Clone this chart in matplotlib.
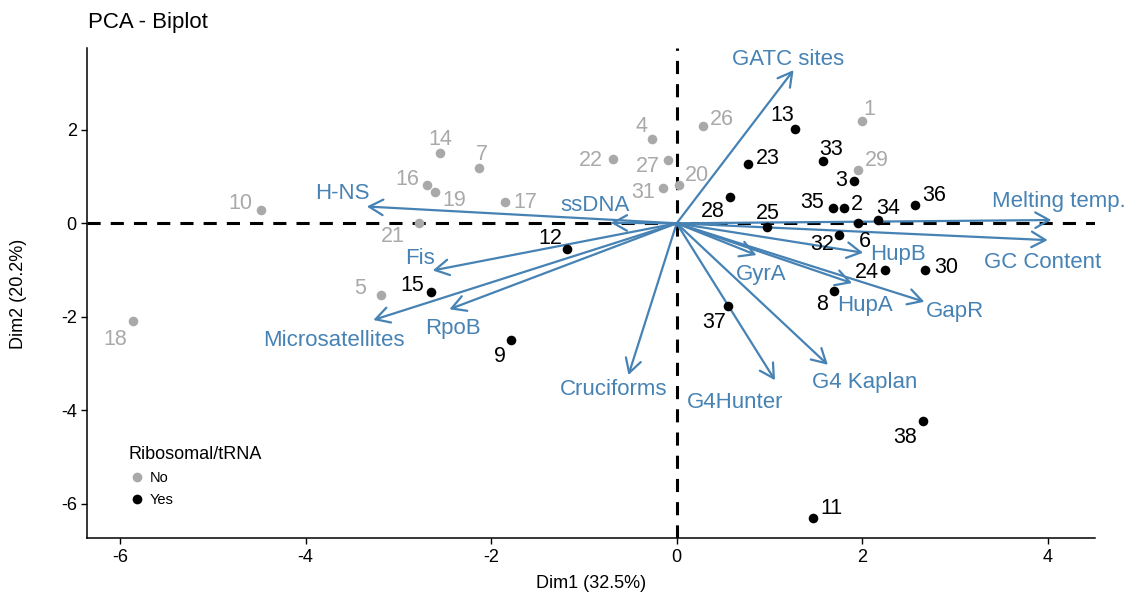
import matplotlib
matplotlib.use("Agg")
import matplotlib.pyplot as plt
from matplotlib.lines import Line2D

plt.rcParams['font.family'] = ['Liberation Sans', 'DejaVu Sans']
plt.rcParams['axes.unicode_minus'] = False

# Individuals (domain id, Dim1, Dim2, ribosomal/tRNA group)
ind_ids = [1, 4, 5, 7, 10, 14, 16, 17, 18, 19, 20, 21, 22, 26, 27, 29, 31,
           2, 3, 6, 8, 9, 11, 12, 13, 15, 23, 24, 25, 28, 30, 32, 33, 34, 35, 36, 37, 38]
ind_x = [2.00, -0.27, -3.19, -2.13, -4.48, -2.55, -2.69, -1.85, -5.86, -2.61, 0.03, -2.78,
         -0.69, 0.28, -0.09, 1.96, -0.15,
         1.80, 1.91, 1.95, 1.70, -1.79, 1.47, -1.18, 1.28, -2.65, 0.77, 2.25, 0.97, 0.58,
         2.68, 1.75, 1.58, 2.17, 1.69, 2.57, 0.55, 2.66]
ind_y = [2.20, 1.81, -1.54, 1.18, 0.28, 1.50, 0.82, 0.45, -2.10, 0.66, 0.82, 0.01,
         1.38, 2.08, 1.36, 1.14, 0.75,
         0.32, 0.91, 0.00, -1.45, -2.50, -6.31, -0.54, 2.03, -1.46, 1.26, -1.01, -0.07, 0.56,
         -1.01, -0.25, 1.33, 0.07, 0.32, 0.40, -1.76, -4.24]
ind_group = ["No"] * 17 + ["Yes"] * 21

# Variables (arrow tips)
var_names = ["GATC sites", "Melting temp.", "GC Content", "HupB", "HupA", "GapR", "GyrA",
             "G4 Kaplan", "G4Hunter", "Cruciforms", "ssDNA", "H-NS", "Fis", "RpoB",
             "Microsatellites"]
var_x = [1.26, 4.04, 4.00, 2.01, 1.89, 2.67, 0.86, 1.63, 1.06, -0.52, -0.71, -3.34, -2.63, -2.45, -3.27]
var_y = [3.28, 0.07, -0.36, -0.63, -1.28, -1.68, -0.68, -3.03, -3.36, -3.25, 0.01, 0.36, -1.01, -1.84, -2.07]

# label offsets in pixels (dx, dy) from each point / arrow tip
ind_offsets = {
    1: (7, 13), 4: (-10, 14), 5: (-21, 9), 7: (3, 16), 10: (-21, 9), 14: (0, 16),
    16: (-20, 8), 17: (20, 2), 18: (-18, -16), 19: (20, -6), 20: (17, 12), 21: (-26, -12),
    22: (-22, 0), 26: (19, 9), 27: (-20, -5), 29: (18, 12), 31: (-20, -2),
    2: (13, 6), 3: (-13, 2), 6: (7, -16), 8: (-12, -11), 9: (-11, -14), 11: (18, 12),
    12: (-17, 12), 13: (-13, 15), 15: (-19, 8), 23: (20, 8), 24: (-19, 0), 25: (1, 15),
    28: (-18, -12), 30: (21, 5), 32: (-17, -8), 33: (8, 14), 34: (10, 14), 35: (-21, 8),
    36: (19, 11), 37: (-14, -15), 38: (-18, -14),
}
var_offsets = {
    "GATC sites": (-5, 13), "Melting temp.": (7, 21), "GC Content": (-5, -20),
    "HupB": (35, 0), "HupA": (13, -20), "GapR": (31, -8), "GyrA": (5, -17),
    "G4 Kaplan": (37, -16), "G4Hunter": (-40, -20), "Cruciforms": (-15, -12),
    "ssDNA": (-16, 19), "H-NS": (-24, 15), "Fis": (-13, 14), "RpoB": (4, -17),
    "Microsatellites": (-39, -19),
}
# text boxes include the descender, so drop labels a touch
text_drop = 2

group_colors = {"No": "#A9A9A9", "Yes": "#000000"}
arrow_color = "#4682B4"

fig = plt.figure(figsize=(11.39, 6.0), dpi=100)
ax = fig.add_axes([0.0766, 0.1028, 0.8848, 0.8172])

# reference lines through the origin
ax.axhline(0, color="black", lw=2.2, linestyle=(0, (4.3, 3.3)), zorder=1)
ax.axvline(0, color="black", lw=2.2, linestyle=(0, (4.3, 3.3)), zorder=1)

# individuals
for g in ["No", "Yes"]:
    xs = [x for x, gg in zip(ind_x, ind_group) if gg == g]
    ys = [y for y, gg in zip(ind_y, ind_group) if gg == g]
    ax.scatter(xs, ys, s=48, color=group_colors[g], zorder=3, linewidths=0)

for i, x, y, g in zip(ind_ids, ind_x, ind_y, ind_group):
    dx, dy = ind_offsets[i]
    ax.annotate(str(i), xy=(x, y), xytext=(dx, dy - text_drop), textcoords="offset pixels",
                ha="center", va="center", fontsize=15.5, color=group_colors[g], zorder=4)

# variable arrows
for name, x, y in zip(var_names, var_x, var_y):
    ax.annotate("", xy=(x, y), xytext=(0, 0),
                arrowprops=dict(arrowstyle="->,head_length=0.5,head_width=0.28",
                                color=arrow_color, lw=1.6, shrinkA=0, shrinkB=0,
                                mutation_scale=20),
                zorder=2)
    dx, dy = var_offsets[name]
    ax.annotate(name, xy=(x, y), xytext=(dx, dy - text_drop), textcoords="offset pixels",
                ha="center", va="center", fontsize=16, color=arrow_color, zorder=4)

ax.set_xlim(-6.354, 4.51)
ax.set_ylim(-6.745, 3.754)
ax.set_xticks([-6, -4, -2, 0, 2, 4])
ax.set_yticks([-6, -4, -2, 0, 2])

for side in ["top", "right"]:
    ax.spines[side].set_visible(False)
for side in ["left", "bottom"]:
    ax.spines[side].set_linewidth(1.1)
ax.tick_params(axis="both", length=4, width=1.0, labelsize=13, colors="black")

fig.text(591 / 1139, 1 - 584 / 600, "Dim1 (32.5%)", ha="center", va="center", fontsize=13)
fig.text(19 / 1139, 1 - 294 / 600, "Dim2 (20.2%)", ha="center", va="center",
         rotation=90, fontsize=13)
fig.text(88 / 1139, 1 - 28 / 600, "PCA - Biplot", ha="left", va="baseline", fontsize=16)

handles = [Line2D([], [], marker="o", linestyle="", markersize=7,
                  markerfacecolor=group_colors[g], markeredgewidth=0, label=g)
           for g in ["No", "Yes"]]
leg = ax.legend(handles=handles, title="Ribosomal/tRNA", loc="upper left",
                bbox_to_anchor=((118 - 87.3) / 1007.7, (538.3 - 436) / 490.3),
                frameon=False, fontsize=10.5, title_fontsize=13, alignment="left",
                handletextpad=0.3, labelspacing=0.55, borderpad=0.2, handlelength=1.2)

fig.savefig("out.png", dpi=100)
